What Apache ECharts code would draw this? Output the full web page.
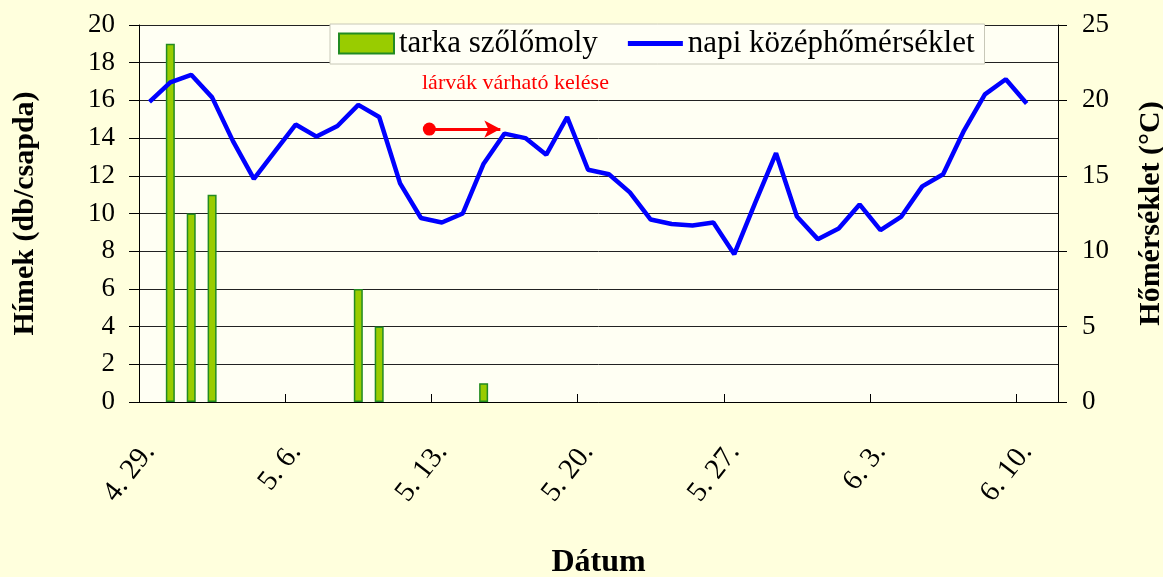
<!DOCTYPE html>
<html>
<head>
<meta charset="utf-8">
<script src="https://cdn.jsdelivr.net/npm/echarts@6/dist/echarts.min.js"></script>
<style>
html,body{margin:0;padding:0;background:#FFFFDD;}
#c{width:1163px;height:577px;}
</style>
</head>
<body>
<div id="c"></div>
<script>
// Days 4.29 .. 6.11
const dates = ["4. 29.","4. 30.",
 "5. 1.","5. 2.","5. 3.","5. 4.","5. 5.","5. 6.","5. 7.","5. 8.","5. 9.","5. 10.",
 "5. 11.","5. 12.","5. 13.","5. 14.","5. 15.","5. 16.","5. 17.","5. 18.","5. 19.","5. 20.",
 "5. 21.","5. 22.","5. 23.","5. 24.","5. 25.","5. 26.","5. 27.","5. 28.","5. 29.","5. 30.","5. 31.",
 "6. 1.","6. 2.","6. 3.","6. 4.","6. 5.","6. 6.","6. 7.","6. 8.","6. 9.","6. 10.","6. 11."];

// tarka szőlőmoly males per trap (null = no catch)
const moths = [null,19,10,11,null,null,null,null,null,null,6,4,null,null,null,null,1,
 null,null,null,null,null,null,null,null,null,null,null,null,null,null,null,null,null,null,
 null,null,null,null,null,null,null,null,null];

// daily mean temperature (°C)
const temps = [19.9,21.2,21.7,20.2,17.3,14.8,16.6,18.4,17.6,18.3,19.7,18.9,14.5,12.2,11.9,12.5,15.8,
 17.8,17.5,16.4,18.9,15.4,15.1,13.9,12.1,11.8,11.7,11.9,9.8,13.2,16.5,12.3,10.8,11.5,13.1,
 11.4,12.3,14.3,15.1,18.0,20.4,21.4,19.8];

// annotation arrow (day-position, °C)
const arrowStart = [13.9, 18.1];
const arrowEnd = [17.3, 18.1];
const annotationText = "lárvák várható kelése";

const leftTicks = {min:0, max:20, interval:2};
const rightTicks = {min:0, max:25, interval:5};

const FONT = "Liberation Serif";
const chart = echarts.init(document.getElementById('c'), null, {renderer:'canvas'});
chart.setOption({
  backgroundColor: '#FFFFDD',
  animation: false,
  textStyle: {fontFamily: FONT},
  grid: {left:139, right:105, top:25, bottom:175, containLabel:false, outerBoundsMode:'none',
         show:true, backgroundColor:'#FFFFF3', borderWidth:0},
  legend: {
    data: [{name:'tarka szőlőmoly', icon:'rect'},
           {name:'napi középhőmérséklet', icon:'path://M0,0L110,0L110,10L0,10Z'}],
    left: 330, top: 24,
    padding: [4, 10, 5, 8],
    itemGap: 30,
    itemWidth: 55, itemHeight: 20,
    backgroundColor: '#FFFFF5',
    borderColor: '#C8C8B8', borderWidth: 1,
    textStyle: {fontFamily: FONT, fontSize: 31, color: '#000'}
  },
  xAxis: [{
    type: 'category',
    data: dates,
    boundaryGap: true,
    position: 'bottom',
    axisLine: {lineStyle: {color: '#000', width: 1}},
    axisTick: {interval: 6, length: 10, lineStyle: {color: '#000'}},
    axisLabel: {interval: 6, rotate: 52, margin: 45, fontFamily: FONT, fontSize: 29, color: '#000'},
    splitLine: {show: false},
    name: 'Dátum', nameLocation: 'middle', nameGap: 145,
    nameTextStyle: {fontFamily: FONT, fontSize: 32, fontWeight: 'bold', color: '#000'}
  }, {
    type: 'value', min: 0, max: 44, show: false, position: 'bottom'
  }, {
    type: 'category', data: dates, boundaryGap: true, position: 'bottom',
    axisLine: {show: false},
    axisTick: {show: true, inside: true, interval: 6, length: 8, lineStyle: {color: '#000'}},
    axisLabel: {show: false}, splitLine: {show: false}
  }],
  yAxis: [{
    type: 'value', min: leftTicks.min, max: leftTicks.max, interval: leftTicks.interval,
    axisLine: {show: true, lineStyle: {color: '#000'}},
    axisTick: {show: true, length: 10, lineStyle: {color: '#000'}},
    axisLabel: {margin: 24, fontFamily: FONT, fontSize: 27, color: '#000'},
    splitLine: {show: true, lineStyle: {color: '#222', width: 1}},
    name: 'Hímek (db/csapda)', nameLocation: 'middle', nameGap: 99, nameRotate: 90,
    nameTextStyle: {fontFamily: FONT, fontSize: 30, fontWeight: 'bold', color: '#000'}
  }, {
    type: 'value', position: 'right', min: rightTicks.min, max: rightTicks.max, interval: rightTicks.interval,
    axisLine: {show: true, lineStyle: {color: '#000'}},
    axisTick: {show: true, length: 9, lineStyle: {color: '#000'}},
    axisLabel: {margin: 24, fontFamily: FONT, fontSize: 27, color: '#000'},
    splitLine: {show: false},
    name: 'Hőmérséklet (°C)', nameLocation: 'middle', nameGap: 78, nameRotate: 90,
    nameTextStyle: {fontFamily: FONT, fontSize: 30, fontWeight: 'bold', color: '#000'}
  }],
  series: [{
    name: 'tarka szőlőmoly', type: 'bar', xAxisIndex: 0, yAxisIndex: 0,
    data: moths, barWidth: 9,
    itemStyle: {color: '#99CC00', borderColor: '#228B22', borderWidth: 1.5}
  }, {
    name: 'napi középhőmérséklet', type: 'line', xAxisIndex: 0, yAxisIndex: 1,
    data: temps, symbol: 'none', smooth: false,
    lineStyle: {color: '#0000FF', width: 4.5},
    itemStyle: {color: '#0000FF'}
  }, {
    name: 'annot', type: 'line', xAxisIndex: 1, yAxisIndex: 1, data: [],
    markLine: {
      silent: true, animation: false,
      symbol: ['circle', 'arrow'], symbolSize: [13, 16],
      label: {show: false},
      lineStyle: {color: '#FF0000', width: 3, type: 'solid'},
      data: [[{coord: arrowStart}, {coord: arrowEnd}]]
    }
  }],
  graphic: [{
    type: 'text', left: 422, top: 72,
    style: {text: annotationText, fill: '#FF0000', font: '22px "Liberation Serif"'}
  }]
});
</script>
</body>
</html>
